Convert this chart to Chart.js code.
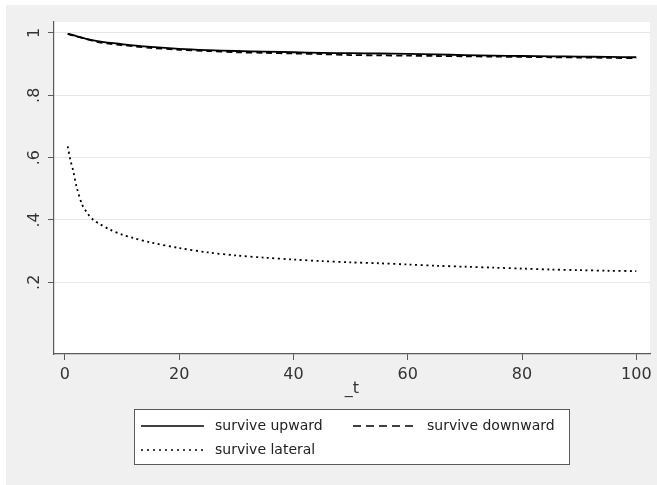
<!DOCTYPE html>
<html>
<head>
<meta charset="utf-8">
<script src="https://cdn.jsdelivr.net/npm/chart.js@4/dist/chart.umd.min.js"></script>
<style>
html, body { margin: 0; padding: 0; background: #fff; }
canvas { display: block; }
</style>
</head>
<body>
<canvas id="survChart" width="657" height="485"></canvas>
<script>
// analysis time _t and the three survivor functions
const t        = [0.5, 1, 1.5, 2, 3, 4, 5, 6, 8, 10, 12, 15, 20, 25, 30, 35, 40, 45, 50, 55, 60, 65, 70, 75, 80, 85, 90, 95, 100];
const upward   = [.997, .995, .993, .990, .985, .980, .976, .973, .968, .964, .960, .955, .949, .945, .942, .940, .938, .936, .935, .934, .933, .931, .929, .927, .926, .925, .924, .923, .922];
const downward = [.997, .994, .992, .989, .984, .979, .974, .970, .965, .961, .957, .952, .946, .942, .938, .936, .934, .932, .929, .928, .927, .926, .925, .924, .923, .922, .921, .920, .919];
const lateral  = [.636, .590, .555, .510, .450, .420, .400, .388, .368, .353, .342, .328, .310, .296, .286, .279, .273, .268, .264, .261, .257, .253, .250, .247, .244, .241, .239, .237, .236];

const xTicks = [0, 20, 40, 60, 80, 100];
const yTicks = [0.2, 0.4, 0.6, 0.8, 1];
const yTickLabels = ['.2', '.4', '.6', '.8', '1'];
const seriesNames = ['survive upward', 'survive downward', 'survive lateral'];
const xTitle = '_t';

const FONT = '"DejaVu Sans", sans-serif';
const AXIS = '#5a5a5a';

function pts(ys) {
    return t.map((x, i) => ({ x: x, y: ys[i] }));
}

const stataLook = {
    id: 'stataLook',
    beforeDraw(chart) {
        const c = chart.ctx;
        const a = chart.chartArea;
        c.save();
        c.fillStyle = '#ffffff';
        c.fillRect(0, 0, chart.width, chart.height);
        c.fillStyle = '#f0f0f0';
        c.fillRect(6, 5, chart.width - 6, chart.height - 5);
        c.fillStyle = '#ffffff';
        c.fillRect(a.left, a.top, a.right - a.left, a.bottom - a.top);
        c.restore();
    },
    afterDraw(chart) {
        const c = chart.ctx;
        const ys = chart.scales.y;
        const a = chart.chartArea;
        c.save();
        c.fillStyle = '#333';
        c.font = '16px ' + FONT;
        c.textAlign = 'center';
        c.textBaseline = 'middle';
        // rotated y tick labels
        yTicks.forEach((v, i) => {
            c.save();
            c.translate(35, ys.getPixelForValue(v));
            c.rotate(-Math.PI / 2);
            c.fillText(yTickLabels[i], 0, 0);
            c.restore();
        });
        // x axis title
        c.fillText(xTitle, (a.left + a.right) / 2, 389);

        // legend box
        const bx = 134, by = 409, bw = 435, bh = 55;
        c.fillStyle = '#ffffff';
        c.fillRect(bx, by, bw, bh);
        c.strokeStyle = AXIS;
        c.lineWidth = 1;
        c.strokeRect(bx + 0.5, by + 0.5, bw, bh);
        const slots = [
            { x: 141, y: 426 },
            { x: 353, y: 426 },
            { x: 141, y: 450 }
        ];
        const dashes = [[], [8, 5], [2, 4]];
        c.font = '14px ' + FONT;
        c.textAlign = 'left';
        chart.data.datasets.forEach((ds, i) => {
            const s = slots[i];
            c.strokeStyle = '#000';
            c.lineWidth = 1.5;
            c.setLineDash(dashes[i]);
            c.beginPath();
            c.moveTo(s.x, s.y);
            c.lineTo(s.x + 63, s.y);
            c.stroke();
            c.setLineDash([]);
            c.fillStyle = '#222';
            c.fillText(ds.label, s.x + 74, s.y);
        });
        c.restore();
    }
};

new Chart(document.getElementById('survChart'), {
    type: 'line',
    data: {
        datasets: [
            { label: seriesNames[0], data: pts(upward), borderColor: '#000', borderWidth: 1.8 },
            { label: seriesNames[1], data: pts(downward), borderColor: '#000', borderWidth: 1.8, borderDash: [6, 4] },
            { label: seriesNames[2], data: pts(lateral), borderColor: '#000', borderWidth: 1.8, borderDash: [2, 3.5] }
        ]
    },
    options: {
        responsive: false,
        devicePixelRatio: 1,
        animation: false,
        layout: { padding: { left: 0, top: 22, right: 7, bottom: 0 } },
        elements: {
            point: { radius: 0 },
            line: { tension: 0.3, fill: false }
        },
        plugins: {
            legend: { display: false },
            tooltip: { enabled: false }
        },
        scales: {
            x: {
                type: 'linear',
                min: -1.9,
                max: 102.4,
                afterBuildTicks: (s) => { s.ticks = xTicks.map(v => ({ value: v })); },
                afterFit: (s) => { s.height = 131; },
                border: { color: AXIS, width: 1.2 },
                grid: { drawOnChartArea: false, drawTicks: true, tickLength: 6, tickColor: AXIS },
                ticks: { color: '#333', font: { family: FONT, size: 16 }, padding: 5, maxRotation: 0 }
            },
            y: {
                min: -0.03,
                max: 1.035,
                afterBuildTicks: (s) => { s.ticks = yTicks.map(v => ({ value: v })); },
                afterFit: (s) => { s.width = 54; },
                border: { color: AXIS, width: 1.2 },
                grid: { color: '#e6e6e6', lineWidth: 1, drawTicks: true, tickLength: 6, tickColor: AXIS },
                ticks: { display: false }
            }
        }
    },
    plugins: [stataLook]
});
</script>
</body>
</html>
